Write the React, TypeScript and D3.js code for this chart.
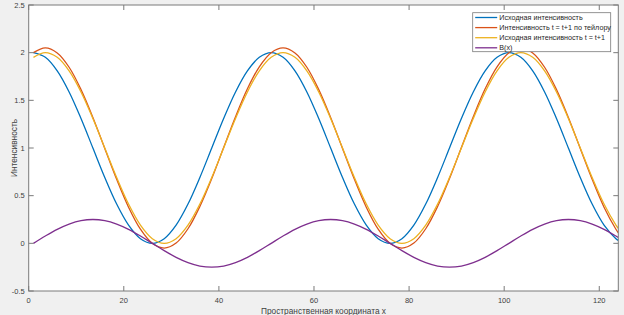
import { useEffect, useRef } from "react";
import * as d3 from "d3";

// sample positions along x
const X = [1, 3.5, 6, 8.5, 11, 13.5, 16, 18.5, 21, 23.5, 26, 28.5, 31, 33.5, 36, 38.5, 41, 43.5, 46, 48.5,
  51, 53.5, 56, 58.5, 61, 63.5, 66, 68.5, 71, 73.5, 76, 78.5, 81, 83.5, 86, 88.5, 91, 93.5, 96, 98.5,
  101, 103.5, 106, 108.5, 111, 113.5, 116, 118.5, 121, 123.5, 124];

// Исходная интенсивность
const SOURCE = [2.000, 1.951, 1.809, 1.588, 1.309, 1.000, 0.691, 0.412, 0.191, 0.049, 0.000, 0.049, 0.191, 0.412, 0.691, 1.000, 1.309, 1.588, 1.809, 1.951,
  2.000, 1.951, 1.809, 1.588, 1.309, 1.000, 0.691, 0.412, 0.191, 0.049, 0.000, 0.049, 0.191, 0.412, 0.691, 1.000, 1.309, 1.588, 1.809, 1.951,
  2.000, 1.951, 1.809, 1.588, 1.309, 1.000, 0.691, 0.412, 0.191, 0.049, 0.031];

// Интенсивность t = t+1 по тейлору
const TAYLOR = [2.000, 2.050, 1.997, 1.847, 1.613, 1.320, 0.995, 0.671, 0.379, 0.148, 0.000, -0.050, 0.003, 0.153, 0.387, 0.680, 1.005, 1.329, 1.621, 1.852,
  2.000, 2.050, 1.997, 1.847, 1.613, 1.320, 0.995, 0.671, 0.379, 0.148, 0.000, -0.050, 0.003, 0.153, 0.387, 0.680, 1.005, 1.329, 1.621, 1.852,
  2.000, 2.050, 1.997, 1.847, 1.613, 1.320, 0.995, 0.671, 0.379, 0.148, 0.111];

// Исходная интенсивность t = t+1
const SHIFTED = [1.951, 2.000, 1.951, 1.809, 1.588, 1.309, 1.000, 0.691, 0.412, 0.191, 0.049, 0.000, 0.049, 0.191, 0.412, 0.691, 1.000, 1.309, 1.588, 1.809,
  1.951, 2.000, 1.951, 1.809, 1.588, 1.309, 1.000, 0.691, 0.412, 0.191, 0.049, 0.000, 0.049, 0.191, 0.412, 0.691, 1.000, 1.309, 1.588, 1.809,
  1.951, 2.000, 1.951, 1.809, 1.588, 1.309, 1.000, 0.691, 0.412, 0.191, 0.156];

// B(x)
const BX = [0.000, 0.077, 0.147, 0.202, 0.238, 0.250, 0.238, 0.202, 0.147, 0.077, 0.000, -0.077, -0.147, -0.202, -0.238, -0.250, -0.238, -0.202, -0.147, -0.077,
  0.000, 0.077, 0.147, 0.202, 0.238, 0.250, 0.238, 0.202, 0.147, 0.077, 0.000, -0.077, -0.147, -0.202, -0.238, -0.250, -0.238, -0.202, -0.147, -0.077,
  0.000, 0.077, 0.147, 0.202, 0.238, 0.250, 0.238, 0.202, 0.147, 0.077, 0.062];

const X_TICKS = [0, 20, 40, 60, 80, 100, 120];
const Y_TICKS = [-0.5, 0, 0.5, 1, 1.5, 2, 2.5];

const SERIES = [
  { name: "Исходная интенсивность", values: SOURCE, color: "#0072BD" },
  { name: "Интенсивность t = t+1 по тейлору", values: TAYLOR, color: "#D95319" },
  { name: "Исходная интенсивность t = t+1", values: SHIFTED, color: "#EDB120" },
  { name: "B(x)", values: BX, color: "#7E2F8E" },
];

const W = 624, H = 315;
const M = { left: 28.7, right: 5.7, top: 5, bottom: 24 };
const FONT = "'Liberation Sans', Arial, sans-serif";

export default function App() {
  const ref = useRef<SVGSVGElement>(null);
  useEffect(() => {
    const el = ref.current;
    if (!el) return;
    const svg = d3.select(el);
    svg.selectAll("*").remove();

    const x0 = M.left, x1 = W - M.right, y0 = H - M.bottom, y1 = M.top;
    const x = d3.scaleLinear().domain([0, 124]).range([x0, x1]);
    const y = d3.scaleLinear().domain([-0.5, 2.5]).range([y0, y1]);

    svg.append("rect").attr("width", W).attr("height", H).attr("fill", "#F0F0F0");
    svg.append("rect").attr("x", x0).attr("y", y1).attr("width", x1 - x0).attr("height", y0 - y1).attr("fill", "#FFFFFF");

    svg.append("clipPath").attr("id", "plotclip").append("rect")
      .attr("x", x0).attr("y", y1).attr("width", x1 - x0).attr("height", y0 - y1);

    // lines
    const g = svg.append("g").attr("clip-path", "url(#plotclip)");
    SERIES.forEach((s) => {
      const line = d3.line<number>().x((_d, i) => x(X[i])).y((d) => y(d)).curve(d3.curveCatmullRom.alpha(0.5));
      g.append("path").attr("d", line(s.values)).attr("fill", "none").attr("stroke", s.color).attr("stroke-width", 1.3);
    });

    // box + ticks
    const axisColor = "#7A7A7A";
    svg.append("rect").attr("x", x0).attr("y", y1).attr("width", x1 - x0).attr("height", y0 - y1)
      .attr("fill", "none").attr("stroke", axisColor).attr("stroke-width", 1);
    const tl = 5;
    X_TICKS.forEach((t) => {
      svg.append("line").attr("x1", x(t)).attr("x2", x(t)).attr("y1", y0).attr("y2", y0 - tl).attr("stroke", axisColor);
      svg.append("line").attr("x1", x(t)).attr("x2", x(t)).attr("y1", y1).attr("y2", y1 + tl).attr("stroke", axisColor);
      svg.append("text").attr("x", x(t)).attr("y", y0 + 11.5).attr("text-anchor", "middle")
        .attr("font-family", FONT).attr("font-size", 7.5).attr("fill", "#404040").text(String(t));
    });
    Y_TICKS.forEach((t) => {
      svg.append("line").attr("x1", x0).attr("x2", x0 + tl).attr("y1", y(t)).attr("y2", y(t)).attr("stroke", axisColor);
      svg.append("line").attr("x1", x1).attr("x2", x1 - tl).attr("y1", y(t)).attr("y2", y(t)).attr("stroke", axisColor);
      svg.append("text").attr("x", x0 - 4).attr("y", y(t) + 2.7).attr("text-anchor", "end")
        .attr("font-family", FONT).attr("font-size", 7.5).attr("fill", "#404040").text(String(t));
    });

    // axis titles
    svg.append("text").attr("x", (x0 + x1) / 2).attr("y", H - 1.5).attr("text-anchor", "middle")
      .attr("font-family", FONT).attr("font-size", 8.3).attr("fill", "#404040").text("Пространственная координата x");
    svg.append("text").attr("transform", `translate(${16.5},${(y0 + y1) / 2}) rotate(-90)`).attr("text-anchor", "middle")
      .attr("font-family", FONT).attr("font-size", 8.3).attr("fill", "#404040").text("Интенсивность");

    // legend
    const lx = 472.7, ly = 12.7, lw = 138, lh = 39;
    svg.append("rect").attr("x", lx).attr("y", ly).attr("width", lw).attr("height", lh)
      .attr("fill", "#FFFFFF").attr("stroke", "#7A7A7A").attr("stroke-width", 0.8);
    SERIES.forEach((s, i) => {
      const yy = ly + 4.8 + i * 10.1;
      svg.append("line").attr("x1", lx + 2.5).attr("x2", lx + 24.5).attr("y1", yy).attr("y2", yy)
        .attr("stroke", s.color).attr("stroke-width", 1.3);
      svg.append("text").attr("x", lx + 26.6).attr("y", yy + 2.6).attr("font-family", FONT).attr("font-size", 7.2)
        .attr("fill", "#262626").text(s.name);
    });
  }, []);
  return <svg ref={ref} width={W} height={H} style={{ position: "absolute", left: 0, top: 0 }} role="img" aria-label="Интенсивность" />;
}
